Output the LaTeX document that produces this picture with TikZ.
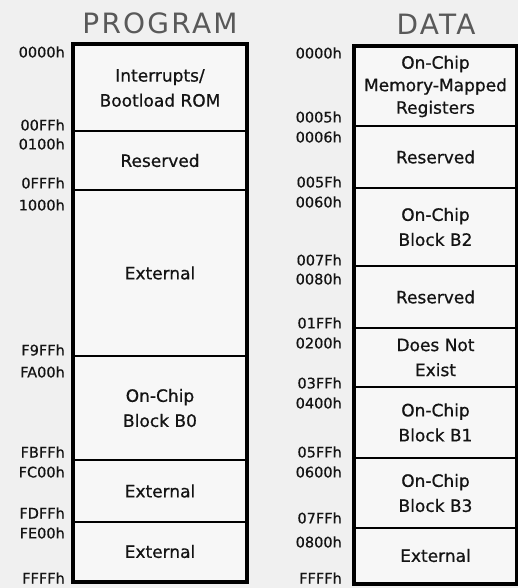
\documentclass[tikz,border=0pt]{standalone}
\usepackage{fontspec}
\setmainfont{DejaVu Sans}
\begin{document}
\begin{tikzpicture}[x=1pt,y=-1pt,
  cell/.style={draw=black, line width=1.7pt, fill=white!97!black, inner sep=0pt, align=center,
    font=\fontsize{17}{25}\selectfont\addfontfeature{FakeBold=0.7}, text=black!92},
  pcell/.style={cell, minimum width=172pt},
  dcell/.style={cell, minimum width=161pt},
  addr/.style={anchor=east, inner sep=0pt, font=\fontsize{14.5}{15}\selectfont\addfontfeature{FakeBold=0.5}, text=black!92},
  outer/.style={draw=black, line width=3.6pt},
  head/.style={inner sep=0pt, font=\fontsize{28}{30}\selectfont\addfontfeature{LetterSpace=8}, text=black!65}]
\useasboundingbox[fill=black!6] (0,0) rectangle (518,588);
% headers
\node[head] (hp) at (160,23) {PROGRAM};
\node[head] (hd) at (436,24) {DATA};
% program column
\node[pcell, minimum height=86pt] (p1) at (160,88) {Interrupts/\\Bootload ROM};
\node[pcell, minimum height=59pt] (p2) at (160,160.5) {Reserved};
\node[pcell, minimum height=166pt] (p3) at (160,273) {External};
\node[pcell, minimum height=104pt] (p4) at (160,408) {On-Chip\\Block B0};
\node[pcell, minimum height=62pt] (p5) at (160,491) {External};
\node[pcell, minimum height=59pt] (p6) at (160,551.5) {External};
\draw[outer] (p1.north west) rectangle (p6.south east);
% data column
\node[dcell, minimum height=79pt, font=\fontsize{17}{22.5}\selectfont\addfontfeature{FakeBold=0.7}] (d1) at (435.5,86.5) {On-Chip\\Memory-Mapped\\Registers};
\node[dcell, minimum height=62pt] (d2) at (435.5,157) {Reserved};
\node[dcell, minimum height=78pt] (d3) at (435.5,227) {On-Chip\\Block B2};
\node[dcell, minimum height=62pt] (d4) at (435.5,297) {Reserved};
\node[dcell, minimum height=59pt] (d5) at (435.5,357.5) {Does Not\\Exist};
\node[dcell, minimum height=71pt] (d6) at (435.5,422.5) {On-Chip\\Block B1};
\node[dcell, minimum height=70pt] (d7) at (435.5,493) {On-Chip\\Block B3};
\node[dcell, minimum height=55pt] (d8) at (435.5,555.5) {External};
\draw[outer] (d1.north west) rectangle (d8.south east);
% program addresses
\node[addr] (a1) at (65,52) {0000h};
\node[addr] (a2) at (65,125) {00FFh};
\node[addr] (a3) at (65,144) {0100h};
\node[addr] (a4) at (65,183) {0FFFh};
\node[addr] (a5) at (65,205) {1000h};
\node[addr] (a6) at (65,350) {F9FFh};
\node[addr] (a7) at (65,372) {FA00h};
\node[addr] (a8) at (65,452) {FBFFh};
\node[addr] (a9) at (65,472) {FC00h};
\node[addr] (a10) at (65,513) {FDFFh};
\node[addr] (a11) at (65,533) {FE00h};
\node[addr] (a12) at (65,578) {FFFFh};
% data addresses
\node[addr] (b1) at (342,53) {0000h};
\node[addr] (b2) at (342,117) {0005h};
\node[addr] (b3) at (342,137) {0006h};
\node[addr] (b4) at (342,182) {005Fh};
\node[addr] (b5) at (342,202) {0060h};
\node[addr] (b6) at (342,260) {007Fh};
\node[addr] (b7) at (342,279) {0080h};
\node[addr] (b8) at (342,323) {01FFh};
\node[addr] (b9) at (342,343) {0200h};
\node[addr] (b10) at (342,383) {03FFh};
\node[addr] (b11) at (342,403) {0400h};
\node[addr] (b12) at (342,452) {05FFh};
\node[addr] (b13) at (342,472) {0600h};
\node[addr] (b14) at (342,518) {07FFh};
\node[addr] (b15) at (342,542) {0800h};
\node[addr] (b16) at (342,578) {FFFFh};
\end{tikzpicture}
\end{document}
